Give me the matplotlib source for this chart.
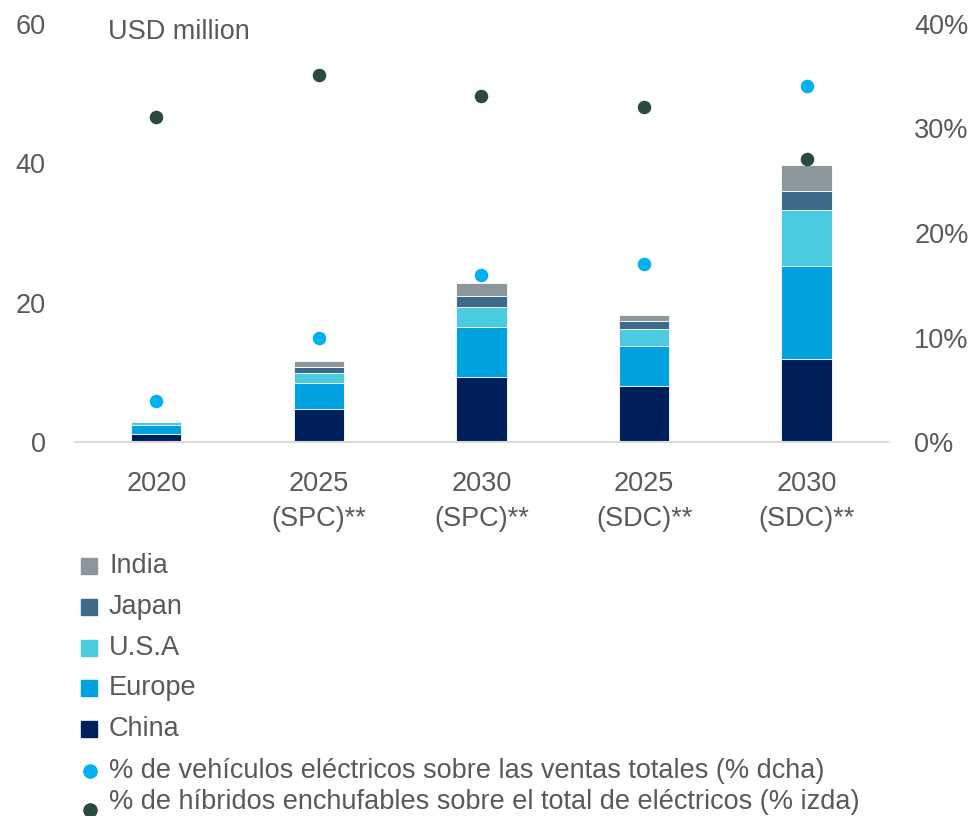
import numpy as np
import matplotlib
matplotlib.use('Agg')
import matplotlib.pyplot as plt
from matplotlib.patches import Rectangle
from matplotlib.lines import Line2D

plt.rcParams['font.family'] = ['Liberation Sans', 'DejaVu Sans']

# Scenario labels on the x axis
SCENARIOS = ["2020", "2025\n(SPC)**", "2030\n(SPC)**", "2025\n(SDC)**", "2030\n(SDC)**"]

# Stacked regions, USD million (bottom to top)
CHINA = [1.1, 4.8, 9.4, 8.1, 11.9]
EUROPE = [1.4, 3.7, 7.1, 5.7, 13.3]
USA = [0.4, 1.35, 2.9, 2.4, 8.1]
JAPAN = [0.1, 0.95, 1.5, 1.2, 2.7]
INDIA = [0.1, 0.9, 1.9, 0.8, 3.7]

# Shares, %
EV_SHARE = [3.9, 10.0, 16.0, 17.0, 34.1]          # right axis
PHEV_SHARE = [46.6, 52.7, 49.7, 48.1, 40.6]       # left axis

REGIONS = ["China", "Europe", "U.S.A", "Japan", "India"]
REGION_COLORS = ["#00205B", "#00A3E0", "#4ACBE0", "#3D6A8A", "#8C979C"]
EV_COLOR = "#00B0F0"
PHEV_COLOR = "#2A4B40"
TEXT = "#595959"
FS = 19.5

fig = plt.figure(figsize=(9.71, 8.16), dpi=100)
ax = fig.add_axes([0.0772, 0.4583, 0.8373, 0.5123])
ax2 = ax.twinx()

x = np.arange(len(SCENARIOS))
bottom = np.zeros(len(SCENARIOS))
for vals, color in zip([CHINA, EUROPE, USA, JAPAN, INDIA], REGION_COLORS):
    ax.bar(x, vals, width=0.31, bottom=bottom, color=color,
           edgecolor="white", linewidth=0.6, zorder=2)
    bottom += np.array(vals)

ax.scatter(x, PHEV_SHARE, s=95, color=PHEV_COLOR, zorder=4, linewidths=0)
ax2.scatter(x, EV_SHARE, s=95, color=EV_COLOR, zorder=4, linewidths=0)

ax.set_xlim(-0.5, 4.5)
ax.set_ylim(0, 60)
ax2.set_ylim(0, 40)
ax.set_yticks([0, 20, 40, 60])
ax2.set_yticks([0, 10, 20, 30, 40])
ax2.set_yticklabels([f"{v}%" for v in [0, 10, 20, 30, 40]])
ax.set_xticks(x)
ax.set_xticklabels(SCENARIOS, linespacing=1.42)

for a in (ax, ax2):
    for side in ["top", "left", "right", "bottom"]:
        a.spines[side].set_visible(False)
    a.tick_params(length=0, labelsize=FS, labelcolor=TEXT)
ax.spines["bottom"].set_visible(True)
ax.spines["bottom"].set_color("#D9D9D9")
ax.spines["bottom"].set_linewidth(1.5)
ax.tick_params(axis="y", pad=21)
ax2.tick_params(axis="y", pad=19)
ax.tick_params(axis="x", pad=21)

ax.text(108 / 971, 1 - 32 / 816, "USD million", transform=fig.transFigure,
        fontsize=FS, color=TEXT, va="center", ha="left")

# Legend, laid out by hand as a vertical list
legend_rows = list(zip(REGIONS[::-1], REGION_COLORS[::-1]))
for i, (name, color) in enumerate(legend_rows):
    yc = 566 + i * 40.8
    fig.add_artist(Rectangle((81 / 971, 1 - (yc + 8) / 816), 16 / 971, 16 / 816,
                             transform=fig.transFigure, color=color))
    fig.text(109 / 971, 1 - yc / 816, name, fontsize=FS, color=TEXT, va="center")

dot_rows = [
    ("% de vehículos eléctricos sobre las ventas totales (% dcha)", EV_COLOR, 771, 771),
    ("% de híbridos enchufables sobre el total de eléctricos (% izda)", PHEV_COLOR, 802, 810),
]
for label, color, ytxt, ydot in dot_rows:
    fig.add_artist(Line2D([90 / 971], [1 - ydot / 816], marker="o", markersize=10.5,
                          color=color, markeredgewidth=0, transform=fig.transFigure))
    fig.text(109 / 971, 1 - ytxt / 816, label, fontsize=FS, color=TEXT, va="center")

fig.savefig("out.png", dpi=100)
